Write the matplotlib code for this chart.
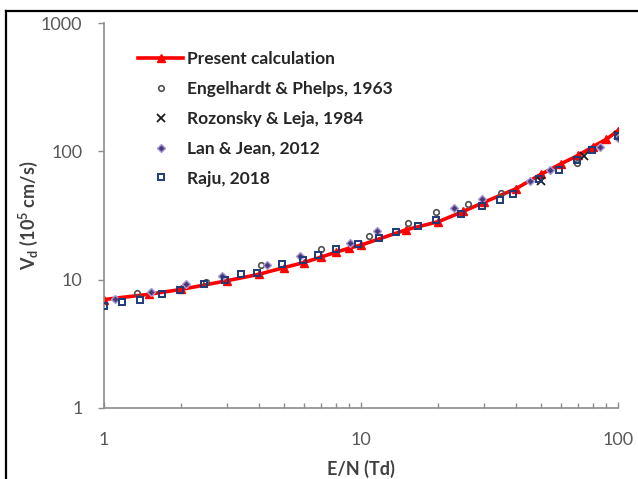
import matplotlib.pyplot as plt
from matplotlib.lines import Line2D

plt.rcParams['font.family'] = ['Lato', 'DejaVu Sans']
plt.rcParams['mathtext.fontset'] = 'custom'
plt.rcParams['mathtext.rm'] = 'Lato:bold'
plt.rcParams['mathtext.default'] = 'rm'

# present calculation
calc_en = [1, 1.5, 2, 3, 4, 5, 6, 7, 8, 9, 10, 15, 20, 25, 30, 40, 50, 60, 70, 80, 90, 100]
calc_vd = [7.0, 7.7, 8.4, 9.8, 11.0, 12.4, 13.6, 15.0, 16.4, 17.6, 18.6, 24.5, 28.3, 34.0,
           40.0, 51.0, 66.0, 80.0, 93.0, 109.0, 124.0, 145.0]

# Engelhardt & Phelps, 1963
eng_en = [1.35, 2.5, 4.1, 7.0, 10.7, 15.3, 19.6, 26.0, 35.0, 69.0]
eng_vd = [7.9, 9.65, 13.0, 17.3, 21.9, 27.5, 33.6, 39.2, 47.1, 81.6]

# Rozonsky & Leja, 1984
roz_en = [50, 74, 100]
roz_vd = [58.6, 91.9, 134.0]

# Lan & Jean, 2012
lan_en = [1.1, 1.53, 2.09, 2.89, 4.3, 5.79, 9.06, 11.5, 23.0, 29.5, 45.5, 54.2, 85.1, 100]
lan_vd = [7.13, 7.96, 9.27, 10.6, 12.9, 15.2, 19.2, 23.8, 36.0, 42.2, 58.9, 71.1, 108.0, 126.0]

# Raju, 2018
raju_en = [1, 1.18, 1.38, 1.68, 1.98, 2.45, 2.97, 3.42, 3.95, 4.91, 5.96, 6.82, 8.0, 9.71,
           11.7, 13.7, 16.7, 19.6, 24.6, 29.5, 34.8, 38.9, 49.3, 58.9, 69.0, 79.1, 99.7]
raju_vd = [6.26, 6.65, 6.89, 7.73, 8.31, 9.26, 9.95, 11.1, 11.3, 13.3, 14.2, 15.7, 17.2, 19.1,
           21.2, 23.6, 26.1, 29.1, 32.6, 37.4, 41.7, 46.1, 60.4, 71.1, 85.5, 102.0, 132.0]

fig = plt.figure(figsize=(6.38, 4.79), dpi=100)
ax = fig.add_axes([104/638, 1-408/479, 514/638, 385/479])

ax.plot(calc_en, calc_vd, color='#ff0000', lw=2.6, marker='^', ms=5.5,
        label='Present calculation', zorder=2)
ax.plot(eng_en, eng_vd, ls='none', marker='o', ms=4.0, mfc='none', mec='#505050',
        mew=1.2, label='Engelhardt & Phelps, 1963', zorder=3)
ax.plot(roz_en, roz_vd, ls='none', marker='x', ms=5.5, color='#1a1a1a', mew=1.3,
        label='Rozonsky & Leja, 1984', zorder=3)
ax.plot(lan_en, lan_vd, ls='none', marker='D', ms=4.0, mfc='#4a3a7a', mec='#a898d4',
        mew=1.0, label='Lan & Jean, 2012', zorder=3)
ax.plot(raju_en, raju_vd, ls='none', marker='s', ms=4.6, mfc='none', mec='#1f3a7a',
        mew=1.4, label='Raju, 2018', zorder=4)

ax.set_xscale('log')
ax.set_yscale('log')
ax.set_xlim(1, 100)
ax.set_ylim(1, 1000)
ax.set_xticks([1, 10, 100])
ax.set_xticklabels(['1', '10', '100'])
ax.set_yticks([1, 10, 100, 1000])
ax.set_yticklabels(['1', '10', '100', '1000'])
ax.minorticks_on()
ax.yaxis.set_minor_locator(plt.NullLocator())

for s in ['top', 'right']:
    ax.spines[s].set_visible(False)
for s in ['left', 'bottom']:
    ax.spines[s].set_color('#8c8c8c')
    ax.spines[s].set_linewidth(1.2)

ax.tick_params(axis='x', which='both', direction='in', color='#8c8c8c',
               labelcolor='#595959', labelsize=13, pad=17)
ax.tick_params(axis='x', which='major', length=4.5, width=1)
ax.tick_params(axis='x', which='minor', length=3.5, width=1)
ax.tick_params(axis='y', which='major', direction='out', length=4.5, width=1,
               color='#8c8c8c', labelcolor='#595959', labelsize=13, pad=11)

ax.set_xlabel('E/N (Td)', fontsize=13, fontweight='bold', color='#404040', labelpad=9)
ax.set_ylabel('V$_{d}$ (10$^{5}$ cm/s)', fontsize=13, fontweight='bold', color='#404040',
              labelpad=1)

ax.legend(loc='upper left', bbox_to_anchor=(138/638, 1-51/479),
          bbox_transform=fig.transFigure, frameon=False,
          prop={'weight': 'bold', 'size': 12.5}, handlelength=2.6, handletextpad=0.2,
          labelspacing=0.8, borderpad=0, borderaxespad=0)
for t in ax.get_legend().get_texts():
    t.set_color('#262626')

# outer frame lines on the left and top
fig.add_artist(Line2D([6/638, 6/638], [0, 1-11/479], color='black', lw=1.6))
fig.add_artist(Line2D([6/638, 1], [1-11/479, 1-11/479], color='black', lw=1.6))

fig.savefig('out.png', dpi=100)
